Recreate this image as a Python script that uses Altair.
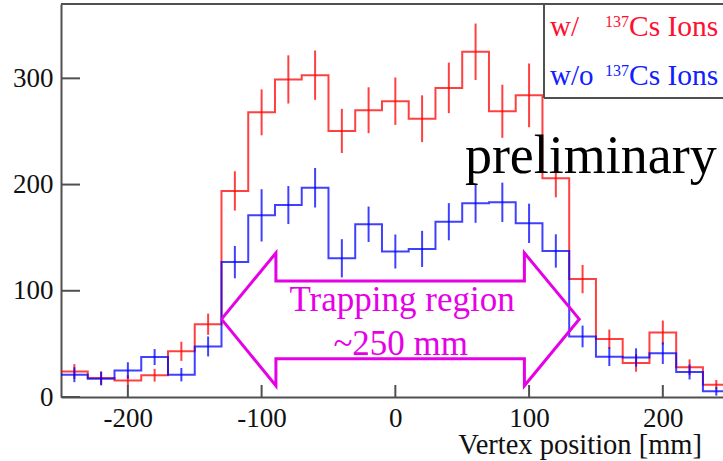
import altair as alt
import pandas as pd

# ---- data ----
bin_centers = [-240, -220, -200, -180, -160, -140, -120, -100, -80, -60, -40, -20, 0,
               20, 40, 60, 80, 100, 120, 140, 160, 180, 200, 220, 240]
bin_width = 20
red_vals = [24, 18, 15.5, 20.5, 43, 68.5, 194, 268, 299, 303, 250.5, 270, 278.5,
            262, 291, 325, 269, 284, 206, 111, 54.5, 32, 60.7, 28, 11.6]
red_err = [7, 6.3, 5, 6, 9, 10, 18.5, 21.6, 22.7, 23.2, 20.8, 21.6, 22.3,
           22, 23.8, 26.6, 25, 30, 18, 13.3, 9, 8.2, 11.3, 7.4, 4.4]
blue_vals = [21, 17.2, 25, 37.6, 21, 47.6, 127, 171, 180.7, 197, 130.6, 162.6, 137,
             139.4, 165, 182.3, 183.3, 163.5, 137.5, 57, 38, 37.2, 41.3, 23.5, 5.3]
blue_err = [7, 6.3, 7.7, 7.5, 6.3, 9.4, 15.2, 24.6, 17.9, 18.6, 18, 16.7, 16,
            17, 17.5, 18.3, 18.5, 18.5, 15.7, 10.2, 8.8, 8.6, 10.2, 7, 4]

x_ticks = [-200, -100, 0, 100, 200]
y_ticks = [0, 100, 200, 300]
x_domain = [-250, 245]
y_domain = [0, 370]
x_title = "Vertex position [mm]"

# arrow outline (data units)
arrow_x = [-130, -89.3, -89.3, 96.5, 96.5, 137.5, 96.5, 96.5, -89.3, -89.3, -130]
arrow_y = [73.3, 135.6, 109.3, 109.3, 135.6, 73.3, 10.6, 36, 36, 10.6, 73.3]

notes_text = ["Trapping region", "~250 mm"]
notes_x = [5, 4]
notes_y = [80.5, 39.8]

RED = "#ff0000"
BLUE = "#0000ff"
MAG = "#e600e6"
AX = "#505050"
FONT = "Liberation Serif"
W, H = 662, 393

# ---- tables ----
def step_table(vals):
    xs_ = [c - bin_width / 2 for c in bin_centers] + [bin_centers[-1] + bin_width / 2]
    ys_ = list(vals) + [vals[-1]]
    return pd.DataFrame({"x": xs_, "y": ys_})

def err_table(vals, errs):
    return pd.DataFrame({"x": bin_centers,
                         "lo": [v - e for v, e in zip(vals, errs)],
                         "hi": [v + e for v, e in zip(vals, errs)]})

xs = alt.Scale(domain=x_domain, nice=False, zero=False)
ys = alt.Scale(domain=y_domain, nice=False, zero=False)

axis_common = dict(labelFont=FONT, labelFontSize=27, labelColor="#111",
                   domainColor=AX, domainWidth=2, ticks=False, grid=False,
                   labelExpr="datum.value", title=None)
X_AXIS = alt.Axis(values=x_ticks, labelPadding=8, **axis_common)
Y_AXIS = alt.Axis(values=y_ticks, labelPadding=8, **axis_common)


def X(field):
    return alt.X(field, type="quantitative", scale=xs, axis=X_AXIS)


def Y(field):
    return alt.Y(field, type="quantitative", scale=ys, axis=Y_AXIS)


def steps(vals, color):
    return alt.Chart(step_table(vals)).mark_line(
        interpolate="step-after", color=color, strokeWidth=2, opacity=0.75, clip=True
    ).encode(x=X("x"), y=Y("y"))


def errs(vals, e, color):
    return alt.Chart(err_table(vals, e)).mark_rule(
        color=color, strokeWidth=2, opacity=0.75, clip=True
    ).encode(x=X("x"), y=Y("lo"), y2="hi:Q")


ytick_rules = alt.Chart(pd.DataFrame({"v": y_ticks})).mark_rule(color=AX, strokeWidth=2).encode(
    y=Y("v"), x=alt.value(0), x2=alt.value(19))
xtick_rules = alt.Chart(pd.DataFrame({"v": x_ticks})).mark_rule(color=AX, strokeWidth=2).encode(
    x=X("v"), y=alt.value(H - 12), y2=alt.value(H))
top_border = alt.Chart(pd.DataFrame({"v": [y_domain[1]]})).mark_rule(color=AX, strokeWidth=2).encode(
    y=Y("v"), x=alt.value(0), x2=alt.value(W))

arrow = alt.Chart(pd.DataFrame({"x": arrow_x, "y": arrow_y, "i": list(range(len(arrow_x)))})).mark_line(
    color=MAG, strokeWidth=3, strokeJoin="miter"
).encode(x=X("x"), y=Y("y"), order="i:Q")

notes = alt.Chart(pd.DataFrame({"t": notes_text, "x": notes_x, "y": notes_y})).mark_text(
    font=FONT, fontSize=35, color=MAG, align="center", baseline="alphabetic"
).encode(x=X("x"), y=Y("y"), text="t:N")

prelim = alt.Chart(pd.DataFrame({"t": ["preliminary"], "x": [52], "y": [211]})).mark_text(
    font=FONT, fontSize=54, color="#000", align="left", baseline="alphabetic"
).encode(x=X("x"), y=Y("y"), text="t:N")

# axis title placed as text (bottom right, below the plot)
xtitle = alt.Chart(pd.DataFrame({"t": [x_title]})).mark_text(
    font=FONT, fontSize=28.5, color="#111", align="right", baseline="alphabetic"
).encode(x=alt.value(641), y=alt.value(H + 57), text="t:N")

# legend box (pixel layout)
leg_box_v = alt.Chart(pd.DataFrame({"a": [0]})).mark_rule(color=AX, strokeWidth=2).encode(
    x=alt.value(483), y=alt.value(0), y2=alt.value(94))
leg_box_h = alt.Chart(pd.DataFrame({"a": [0]})).mark_rule(color=AX, strokeWidth=2).encode(
    x=alt.value(483), x2=alt.value(W), y=alt.value(94))

leg_items = pd.DataFrame({
    "t": ["w/", "137", "Cs Ions", "w/o", "137", "Cs Ions"],
    "px": [489, 544, 568, 489, 544, 568],
    "py": [32, 22.5, 32, 81, 71.5, 81],
    "fs": [29, 16, 29.5, 29, 16, 29.5],
    "c": ["r", "r", "r", "b", "b", "b"],
})
legend_text = alt.Chart(leg_items).mark_text(font=FONT, align="left", baseline="alphabetic").encode(
    x=alt.X("px:Q", scale=None, axis=None), y=alt.Y("py:Q", scale=None, axis=None), text="t:N",
    size=alt.Size("fs:Q", scale=None, legend=None),
    color=alt.Color("c:N", scale=alt.Scale(domain=["r", "b"], range=["#ff1030", "#1020ff"]), legend=None))

chart = alt.layer(
    steps(red_vals, RED), errs(red_vals, red_err, RED),
    steps(blue_vals, BLUE), errs(blue_vals, blue_err, BLUE),
    ytick_rules, xtick_rules, top_border, arrow, notes, prelim, xtitle,
    leg_box_v, leg_box_h, legend_text,
).properties(
    width=W, height=H,
    autosize=alt.AutoSizeParams(type="none"),
    padding={"left": 61, "top": 4, "right": 0, "bottom": 64},
    background="white",
).configure_view(stroke=None).configure_axis(
    labelFont=FONT, labelFontSize=27
)

chart.save("out.html", embed_options={"renderer": "svg", "actions": False})
